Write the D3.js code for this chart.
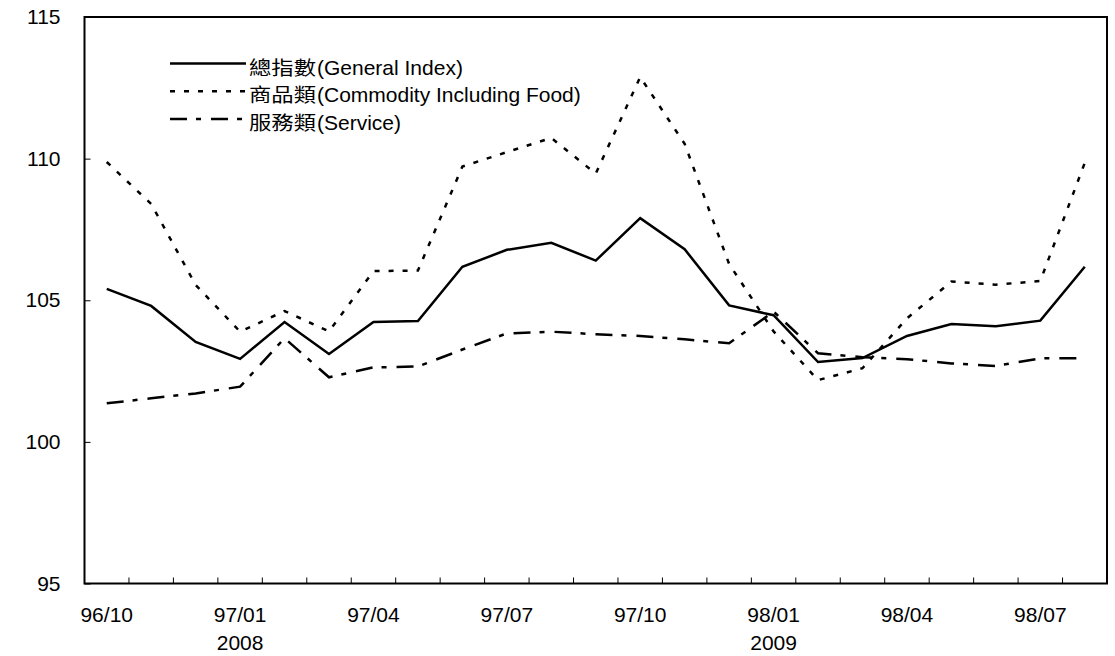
<!DOCTYPE html>
<html><head><meta charset="utf-8">
<script src="https://cdn.jsdelivr.net/npm/d3@7"></script>
<style>body{margin:0;background:#fff} svg{display:block}</style>
</head><body><svg id="c" width="1115" height="656"></svg>
<script>
const months = ["96/10","96/11","96/12","97/01","97/02","97/03","97/04","97/05","97/06","97/07","97/08","97/09","97/10","97/11","97/12","98/01","98/02","98/03","98/04","98/05","98/06","98/07","98/08"];
const labelMonths = ["96/10","97/01","97/04","97/07","97/10","98/01","98/04","98/07"];
const yearMonths = ["97/01","98/01"];
const yearLabels = ["2008","2009"];
const yTicks = [95,100,105,110,115];

const general   = [105.40,104.80,103.53,102.93,104.23,103.10,104.23,104.27,106.18,106.78,107.03,106.40,107.90,106.80,104.82,104.47,102.82,102.96,103.74,104.16,104.08,104.28,106.18];
const commodity = [109.88,108.40,105.54,103.89,104.62,103.90,106.03,106.05,109.72,110.23,110.73,109.47,112.88,110.52,106.28,103.90,102.18,102.60,104.36,105.66,105.55,105.68,109.85];
const service   = [101.36,101.54,101.71,101.95,103.66,102.28,102.63,102.66,103.26,103.83,103.89,103.80,103.74,103.62,103.48,104.60,103.13,102.99,102.92,102.77,102.68,102.95,102.95];

const seriesNames = ["總指數", "商品類", "服務類"];
const seriesNamesEn = ["(General Index)", "(Commodity Including Food)", "(Service)"];

const svg = d3.select("#c");
const L = 84.5, R = 1107, T = 17, B = 583.5;
const x = d3.scaleBand().domain(months).range([L, R]);
const y = d3.scaleLinear().domain([95, 115]).range([B, T]);
const cx = m => x(m) + x.bandwidth() / 2;
const latin = "'Liberation Sans', Arial, sans-serif";
const cjk = "'Noto Sans CJK TC', 'Noto Sans CJK SC', sans-serif";

// Frame
svg.append("rect").attr("x", L).attr("y", T).attr("width", R - L).attr("height", B - T)
  .attr("fill", "none").attr("stroke", "#000").attr("stroke-width", 2);

// Y axis
const ya = svg.append("g").attr("transform", `translate(${L},0)`)
  .call(d3.axisLeft(y).tickValues(yTicks).tickSize(-6).tickPadding(24).tickFormat(d3.format("d")));
ya.select(".domain").remove();
ya.selectAll("line").attr("stroke", "#000").attr("stroke-width", 1);
ya.selectAll("text").attr("font-family", latin).attr("font-size", 21).attr("fill", "#000");

// X tick marks at band boundaries (inward)
svg.append("g").selectAll("line").data(months.slice(1)).join("line")
  .attr("x1", d => x(d)).attr("x2", d => x(d))
  .attr("y1", B).attr("y2", B - 6).attr("stroke", "#000").attr("stroke-width", 1);

// X labels
svg.append("g").selectAll("text").data(labelMonths).join("text")
  .attr("x", d => cx(d)).attr("y", 622).attr("text-anchor", "middle")
  .attr("font-family", latin).attr("font-size", 21).text(d => d);
svg.append("g").selectAll("text").data(yearMonths).join("text")
  .attr("x", d => cx(d)).attr("y", 650).attr("text-anchor", "middle")
  .attr("font-family", latin).attr("font-size", 21).text((d, i) => yearLabels[i]);

// Lines
const styles = [
  {data: general, dash: null, w: 2.5},
  {data: commodity, dash: "5,9", w: 2.5},
  {data: service, dash: "17,9,5,10", w: 2.5}
];
const line = d3.line().x((d, i) => cx(months[i])).y(d => y(d));
styles.forEach(s => {
  svg.append("path").attr("d", line(s.data)).attr("fill", "none")
    .attr("stroke", "#000").attr("stroke-width", s.w)
    .attr("stroke-dasharray", s.dash);
});

// Legend
const lg = svg.append("g");
styles.forEach((s, i) => {
  const ly = 63.5 + i * 27.8;
  lg.append("line").attr("x1", 170).attr("x2", 246).attr("y1", ly).attr("y2", ly)
    .attr("stroke", "#000").attr("stroke-width", s.w).attr("stroke-dasharray", s.dash);
  lg.append("text").attr("x", 249).attr("y", ly + 11)
    .attr("font-family", cjk).attr("font-size", 19)
    .attr("textLength", 67).attr("lengthAdjust", "spacingAndGlyphs")
    .text(seriesNames[i]);
  lg.append("text").attr("x", 317).attr("y", ly + 11)
    .attr("font-family", latin).attr("font-size", 21).text(seriesNamesEn[i]);
});
</script>
</body></html>
